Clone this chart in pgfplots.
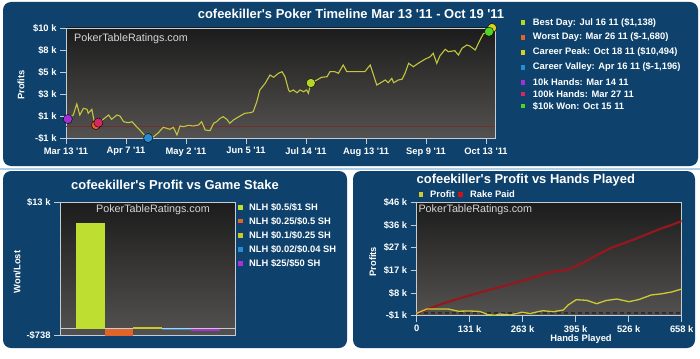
\documentclass[border=0pt]{standalone}
\usepackage{fontspec}
\setmainfont[Ligatures=TeXOff]{Liberation Sans}
\usepackage{pgfplots}
\pgfplotsset{compat=1.18}
\definecolor{panel}{RGB}{14,66,108}
\definecolor{frame}{RGB}{196,204,212}
\definecolor{bgtop}{RGB}{28,28,28}
\definecolor{bgbot}{RGB}{84,82,80}
\definecolor{tline}{RGB}{196,198,62}
\definecolor{zline}{RGB}{112,46,46}
\definecolor{dline}{RGB}{45,45,45}
\definecolor{cbest}{RGB}{180,214,40}
\definecolor{cworst}{RGB}{226,100,40}
\definecolor{cpeak}{RGB}{216,206,40}
\definecolor{cvalley}{RGB}{40,140,212}
\definecolor{ctenk}{RGB}{160,50,212}
\definecolor{chundk}{RGB}{212,40,100}
\definecolor{cwon}{RGB}{80,212,40}
\definecolor{cbarA}{RGB}{190,222,50}
\definecolor{cbarC}{RGB}{205,200,40}
\definecolor{cbarE}{RGB}{170,50,212}
\definecolor{crake}{RGB}{150,24,30}
\definecolor{crakeleg}{RGB}{200,20,30}
\definecolor{cprof}{RGB}{204,204,50}
\definecolor{wm}{RGB}{215,215,215}
\definecolor{sep}{RGB}{172,206,230}
\newcommand\sm{\bfseries\fontsize{9.4}{11}\selectfont}
\newcommand\ttl{\bfseries\fontsize{13}{15}\selectfont}
\newcommand\wmf{\fontsize{10.8}{12}\selectfont}
\pgfplotsset{ptr/.style={
  scale only axis,
  anchor=south west,
  axis background/.style={shade, top color=bgtop, bottom color=bgbot},
  axis line style={frame, line width=0.9pt},
  tick style={color=frame, line width=0.9pt},
  tick align=outside,
  major tick length=6bp,
  xtick pos=left, ytick pos=left,
  ticklabel style={font=\sm, text=white},
  scaled x ticks=false, scaled y ticks=false,
}}
\begin{document}
\begin{tikzpicture}[x=1bp,y=1bp]
\useasboundingbox (0,0) rectangle (700,358);
\fill[white] (0,0) rectangle (700,358);
% panels
\fill[panel, rounded corners=8bp] (3,192) rectangle (698,356);
\draw[sep, line width=1.2bp] (0,189) -- (700,189);
\fill[panel, rounded corners=8bp] (3,10) rectangle (347,187);
\fill[panel, rounded corners=8bp] (353,10) rectangle (695,187);

% ---------------- top: timeline ----------------
\begin{axis}[ptr, at={(66bp,220bp)}, width=429bp, height=110bp,
  xmin=0, xmax=7.15, ymin=-1196, ymax=10494,
  xtick={0,1,2,3,4,5,6,7},
  xticklabels={Mar 13 '11,Apr 7 '11,May 2 '11,Jun 5 '11,Jul 14 '11,Aug 13 '11,Sep 9 '11,Oct 13 '11},
  ytick={-1196,1142,3480,5818,8156,10494},
  yticklabels={-\$1 k,\$1 k,\$3 k,\$5 k,\$8 k,\$10 k},
  clip=false]
\addplot[zline, line width=0.6pt] coordinates {(0,0) (7.15,0)};
\addplot[tline, line width=1.1pt] coordinates {
(0,791) (0.12,1248) (0.18,2417) (0.23,1248) (0.29,1960) (0.35,1854) (0.37,1429) (0.43,1854) (0.46,898) (0.49,150) (0.54,400) (0.62,791) (0.71,1248) (0.76,791) (0.85,1248) (0.90,1142) (0.96,536) (1.04,430) (1.10,536) (1.15,186) (1.23,-346) (1.32,-983) (1.37,-1196) (1.46,-1058) (1.54,-633) (1.62,-59) (1.68,-165) (1.73,-271) (1.79,-59) (1.85,-877) (1.90,79) (1.96,5) (2.04,154) (2.12,79) (2.21,186) (2.26,536) (2.32,-346) (2.40,-420) (2.46,366) (2.51,536) (2.57,898) (2.62,1068) (2.68,791) (2.73,366) (2.79,717) (2.90,1142) (2.98,1429) (3.07,1493) (3.12,1599) (3.18,2662) (3.23,3905) (3.32,4617) (3.40,5499) (3.46,5255) (3.54,5680) (3.60,5850) (3.65,5318) (3.71,3905) (3.73,3724) (3.79,3905) (3.85,3618) (3.90,3905) (3.96,3724) (4.01,3905) (4.04,3554) (4.08,4650) (4.18,4968) (4.26,5255) (4.35,5318) (4.40,5850) (4.48,5850) (4.54,5680) (4.62,6562) (4.68,5850) (4.76,5850) (4.87,5850) (4.98,5850) (5.07,6562) (5.18,4436) (5.23,4617) (5.32,4968) (5.37,4681) (5.43,5148) (5.46,4681) (5.54,4968) (5.60,5042) (5.65,5680) (5.71,6742) (5.79,6381) (5.87,6742) (5.98,7167) (6.07,7444) (6.12,7805) (6.18,6742) (6.23,7518) (6.32,8230) (6.37,7975) (6.48,8081) (6.54,7624) (6.60,8336) (6.68,8687) (6.73,8581) (6.82,8156) (6.90,9218) (6.96,9930) (7.01,9930) (7.05,10100) (7.10,10494)};
\addplot[only marks, mark=*, mark size=4.6bp, mark options={fill=ctenk, draw=none}] coordinates {(0.03,820)};
\addplot[only marks, mark=*, mark size=4.6bp, mark options={fill=cworst, draw=none}] coordinates {(0.50,190)};
\addplot[only marks, mark=*, mark size=4.6bp, mark options={fill=chundk, draw=none}] coordinates {(0.54,430)};
\addplot[only marks, mark=*, mark size=4.6bp, mark options={fill=cvalley, draw=none}] coordinates {(1.37,-1196)};
\addplot[only marks, mark=*, mark size=4.6bp, mark options={fill=cbest, draw=none}] coordinates {(4.08,4650)};
\addplot[only marks, mark=*, mark size=4.6bp, mark options={fill=cpeak, draw=none}] coordinates {(7.10,10494)};
\addplot[only marks, mark=*, mark size=4.6bp, mark options={fill=cwon, draw=none}] coordinates {(7.05,10100)};
\end{axis}
\node[anchor=west, inner sep=0pt, text=wm, font=\wmf] at (74,319) {PokerTableRatings.com};
\node[inner sep=0pt, text=white, font=\ttl] at (351,344) {cofeekiller's Poker Timeline Mar 13 '11 - Oct 19 '11};
\node[inner sep=0pt, text=white, font=\sm, rotate=90] at (21,273) {Profits};
% top legend
\foreach \c/\t/\yy in {cbest/{Best Day: Jul 16 11 (\$1,138)}/335.3, cworst/{Worst Day: Mar 26 11 (\$-1,680)}/320.7, cpeak/{Career Peak: Oct 18 11 (\$10,494)}/305.7, cvalley/{Career Valley: Apr 16 11 (\$-1,196)}/290.7, ctenk/{10k Hands: Mar 14 11}/275.7, chundk/{100k Hands: Mar 27 11}/264, cwon/{\$10k Won: Oct 15 11}/252}{
  \fill[\c] (520.7,\yy-2.3) rectangle ++(4.6,4.6);
  \node[anchor=west, inner sep=0pt, text=white, font=\sm] at (532.7,\yy) {\t};
}

% ---------------- bottom left: bars ----------------
\begin{axis}[ptr, at={(60bp,22.3bp)}, width=175bp, height=133.4bp,
  xmin=-1.057, xmax=5.04, ymin=-738, ymax=13000,
  ytick={-738,13000}, yticklabels={-\$738,\$13 k}, xtick=\empty,
  extra y ticks={0}, extra y tick labels={},
  extra y tick style={grid=major, major tick length=0pt, major grid style={frame, line width=0.7pt}},
  ybar, bar width=1, bar shift=0pt]
\addplot[fill=cbarA, draw=none] coordinates {(0,10840)};
\addplot[fill=cworst, draw=none] coordinates {(1,-738)};
\addplot[fill=cbarC, draw=none] coordinates {(2,190)};
\addplot[fill=cvalley, draw=none] coordinates {(3,-110)};
\addplot[fill=cbarE, draw=none] coordinates {(4,-230)};
\end{axis}
\node[inner sep=0pt, text=wm, font=\wmf] at (153,148.7) {PokerTableRatings.com};
\node[inner sep=0pt, text=white, font=\ttl] at (175,173) {cofeekiller's Profit vs Game Stake};
\node[inner sep=0pt, text=white, font=\sm, rotate=90] at (17,86) {Won/Lost};
\foreach \c/\t/\yy in {cbarA/{NLH \$0.5/\$1 SH}/150.3, cworst/{NLH \$0.25/\$0.5 SH}/137, cbarC/{NLH \$0.1/\$0.25 SH}/122.7, cvalley/{NLH \$0.02/\$0.04 SH}/108.7, cbarE/{NLH \$25/\$50 SH}/94.3}{
  \fill[\c] (238.4,\yy-2.3) rectangle ++(4.6,4.6);
  \node[anchor=west, inner sep=0pt, text=white, font=\sm] at (249,\yy) {\t};
}

% ---------------- bottom right: hands ----------------
\begin{axis}[ptr, at={(416.7bp,42.3bp)}, width=265bp, height=113.4bp,
  xmin=0, xmax=658, ymin=-1000, ymax=46000,
  xtick={0,131.6,263.2,394.8,526.4,658},
  xticklabels={0,131 k,263 k,395 k,526 k,658 k},
  ytick={-1000,8400,17800,27200,36600,46000},
  yticklabels={-\$1 k,\$8 k,\$17 k,\$27 k,\$36 k,\$46 k}]
\addplot[dline, line width=1.6pt, dash pattern=on 4bp off 3bp] coordinates {(0,0) (658,0)};
\addplot[crake, line width=2.2pt] coordinates {
(0,0) (66,4140) (149,8285) (232,12015) (331,16990) (352,17500) (372,17943) (393,19310) (418,21383) (451,24450) (484,27186) (525,29673) (567,32450) (608,35227) (633,36595) (658,38253)};
\addplot[cprof, line width=1.3pt] coordinates {
(0,0) (25,1777) (78,1777) (103,865) (132,948) (157,741) (176,-503) (194,-834) (207,-295) (232,-710) (261,451) (281,-88) (313,1073) (339,658) (364,1363) (376,3435) (396,5632) (422,5383) (447,3974) (470,5300) (497,5922) (527,4803) (552,5715) (582,7580) (608,8078) (633,8824) (658,10067)};
\end{axis}
\node[anchor=west, inner sep=0pt, text=wm, font=\wmf] at (418.3,148) {PokerTableRatings.com};
\node[inner sep=0pt, text=white, font=\ttl] at (525.8,178) {cofeekiller's Profit vs Hands Played};
\node[inner sep=0pt, text=white, font=\sm, rotate=90] at (372.7,96.3) {Profits};
\node[inner sep=0pt, text=white, font=\sm] at (581,19) {Hands Played};
\fill[cprof] (418.7,161.4) rectangle ++(4.6,4.6);
\node[anchor=west, inner sep=0pt, text=white, font=\sm] at (430,163.7) {Profit};
\fill[crakeleg] (458.4,161.4) rectangle ++(4.6,4.6);
\node[anchor=west, inner sep=0pt, text=white, font=\sm] at (470,163.7) {Rake Paid};
\end{tikzpicture}
\end{document}
